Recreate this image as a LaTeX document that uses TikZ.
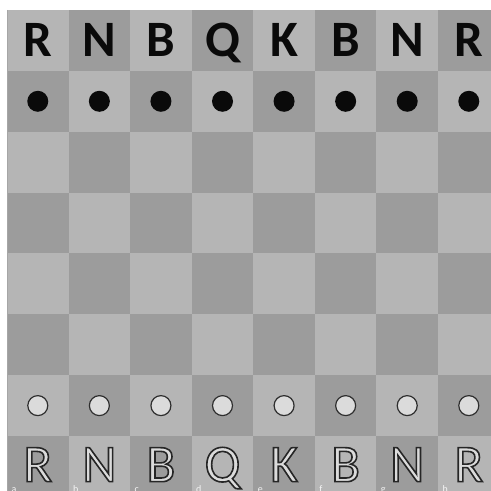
\documentclass[tikz,border=0pt]{standalone}
\usepackage{fontspec}
\setmainfont{Carlito}
\usepackage{xcolor}
\usepackage{tikz}
\usetikzlibrary{positioning}

\definecolor{lightsq}{gray}{0.71}
\definecolor{darksq}{gray}{0.61}
\definecolor{pieceink}{gray}{0.04}
\definecolor{hollow}{gray}{0.86}
\definecolor{rim}{gray}{0.18}

% outlined letter: fill+stroke text rendering mode
\newcommand{\hollowletter}[1]{%
  \special{pdf:literal direct 2 Tr 1.6 w 0.15 G 0.86 g}#1%
  \special{pdf:literal direct 0 Tr 0 g 0 G}}

\begin{document}
\begin{tikzpicture}[x=61.57pt, y=-60.86pt,
    blackpiece/.style={font=\fontsize{51}{51}\selectfont\bfseries, text=pieceink, inner sep=0pt, anchor=base},
    whitepiece/.style={font=\fontsize{53}{53}\selectfont, inner sep=0pt, anchor=base},
    blackpawn/.style={circle, fill=pieceink, minimum size=21pt, inner sep=0pt},
    whitepawn/.style={circle, fill=hollow, draw=rim, line width=1.2pt, minimum size=20pt, inner sep=0pt},
    filelabel/.style={font=\fontsize{10}{10}\selectfont, text=white!92!gray, anchor=base west, inner sep=0pt}]
    \useasboundingbox (-0.1137,-0.1643) rectangle (7.845,7.903);

    % Board squares
    \foreach \r in {0,...,7}
      \foreach \c in {0,...,7} {
        \pgfmathtruncatemacro{\odd}{mod(\r+\c,2)}
        \ifnum\odd=0
          \fill[lightsq] (\c,\r) rectangle ++(1,1);
        \else
          \fill[darksq] (\c,\r) rectangle ++(1,1);
        \fi
      }
    \draw[gray!70, line width=0.6pt] (0,0) -- (0,8);

    % Back ranks
    \foreach \p [count=\i from 0] in {R,N,B,Q,K,B,N,R} {
        \node[blackpiece] (bk-\i) at (\i+0.5,0.763) {\p};
        \node[whitepiece] (wk-\i) at (\i+0.5,7.75) {\hollowletter{\p}};
    }

    % Pawns
    \foreach \i in {0,...,7} {
        \node[blackpawn] (bp-\i) at (\i+0.5,1.5) {};
        \node[whitepawn] (wp-\i) at (\i+0.5,6.5) {};
    }

    % File letters, cut off at the bottom edge
    \foreach \f [count=\i from 0] in {a,b,c,d,e,f,g,h}
        \node[filelabel] (file-\f) at (\i+0.07,7.93) {\f};
\end{tikzpicture}
\end{document}
